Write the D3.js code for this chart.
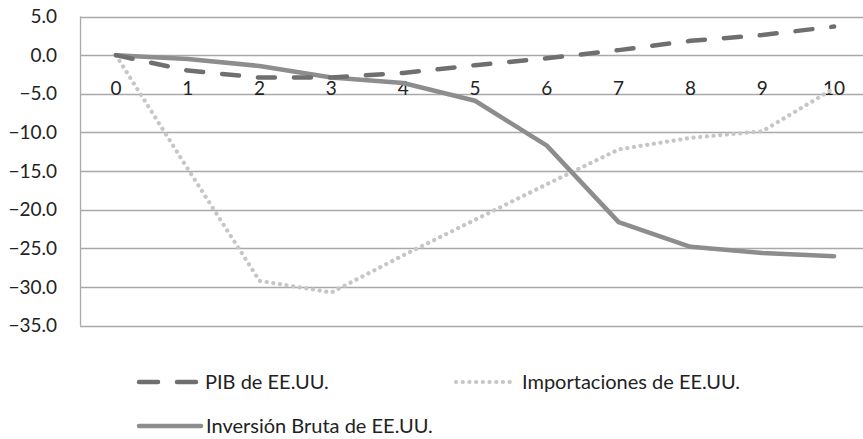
<!DOCTYPE html>
<html>
<head>
<meta charset="utf-8">
<script src="https://cdn.jsdelivr.net/npm/d3@7"></script>
<style>
  body { margin: 0; background: #fff; }
  svg { display: block; font-family: Lato, "Open Sans", sans-serif; }
  .grid line { stroke: #a9a9a9; stroke-width: 1.3; }
  .y-axis .domain, .x-axis .domain { display: none; }
  .y-axis line, .x-axis line { display: none; }
  text { fill: #222; }
</style>
</head>
<body>
<div id="chart"></div>
<script>
const periods = ['0', '1', '2', '3', '4', '5', '6', '7', '8', '9', '10'];
const pib = [0, -2.0, -2.9, -2.9, -2.3, -1.3, -0.4, 0.65, 1.85, 2.6, 3.7];
const importaciones = [0, -14.7, -29.2, -30.7, -25.9, -21.3, -16.7, -12.2, -10.7, -9.85, -4.3];
const inversion = [0, -0.5, -1.4, -2.9, -3.6, -5.9, -11.7, -21.6, -24.8, -25.6, -26.0];
const yTicks = [5, 0, -5, -10, -15, -20, -25, -30, -35];

const series = [
  {name: 'PIB de EE.UU.', values: pib, color: '#6f6f6f', width: 4.5, dash: '17 19'},
  {name: 'Importaciones de EE.UU.', values: importaciones, color: '#c6c6c6', width: 4.2, dash: '0.1 6.6'},
  {name: 'Inversión Bruta de EE.UU.', values: inversion, color: '#8d8d8d', width: 4.5, dash: null},
];

const c = {svgW: 863, svgH: 439, left: 80, right: 870, top: 16.5, bottom: 325.7};

const svg = d3.select('#chart').append('svg')
  .attr('width', c.svgW)
  .attr('height', c.svgH);

const x = d3.scaleBand().domain(periods).range([c.left, c.right]);
const y = d3.scaleLinear().domain([-35, 5]).range([c.bottom, c.top]);

// horizontal gridlines + y axis line
const grid = svg.append('g').classed('grid', true);
grid.selectAll('.h').data(yTicks).join('line')
  .attr('x1', c.left).attr('x2', c.right)
  .attr('y1', d => Math.round(y(d)) + 0.5).attr('y2', d => Math.round(y(d)) + 0.5);
grid.append('line')
  .attr('x1', c.left + 0.5).attr('x2', c.left + 0.5)
  .attr('y1', y(5)).attr('y2', y(-35));

svg.append('g')
  .classed('y-axis', true)
  .attr('transform', `translate(${c.left - 23}, 0)`)
  .call(d3.axisLeft(y).tickValues(yTicks).tickFormat(d3.format('.1f')).tickSize(0).tickPadding(0))
  .selectAll('text')
  .attr('font-size', 19)
  .attr('fill', '#222')
  .attr('font-family', 'Lato, "Open Sans", sans-serif');

svg.append('g')
  .classed('x-axis', true)
  .attr('transform', `translate(0, ${y(0)})`)
  .call(d3.axisBottom(x).tickSize(0).tickPadding(26))
  .selectAll('text')
  .attr('font-size', 19)
  .attr('fill', '#222')
  .attr('font-family', 'Lato, "Open Sans", sans-serif');

const line = d3.line()
  .x((d, i) => x(periods[i]) + x.bandwidth() / 2)
  .y(d => y(d));

// draw imports first, then investment, then GDP on top
const order = [series[1], series[2], series[0]];
svg.append('g').selectAll('path').data(order).join('path')
  .attr('d', d => line(d.values))
  .attr('fill', 'none')
  .attr('stroke', d => d.color)
  .attr('stroke-width', d => d.width)
  .attr('stroke-linecap', 'round')
  .attr('stroke-linejoin', 'round')
  .attr('stroke-dasharray', d => d.dash);

// legend
const legendPos = [
  {x: 139, y: 382, len: 58, gap: 8, dash: '19 19'},
  {x: 456, y: 382, len: 57, gap: 9, dash: '0.1 6.6'},
  {x: 139, y: 426, len: 62, gap: 5, dash: null},
];
const legend = svg.append('g').selectAll('g').data(series).join('g')
  .attr('transform', (d, i) => `translate(${legendPos[i].x}, ${legendPos[i].y})`);
legend.append('line')
  .attr('x1', 0).attr('x2', (d, i) => legendPos[i].len)
  .attr('y1', 0).attr('y2', 0)
  .attr('stroke', d => d.color)
  .attr('stroke-width', d => d.width)
  .attr('stroke-linecap', 'round')
  .attr('stroke-dasharray', (d, i) => legendPos[i].dash);
legend.append('text')
  .attr('x', (d, i) => legendPos[i].len + legendPos[i].gap)
  .attr('y', 0)
  .attr('dy', '0.35em')
  .attr('font-size', 20)
  .text(d => d.name);
</script>
</body>
</html>
